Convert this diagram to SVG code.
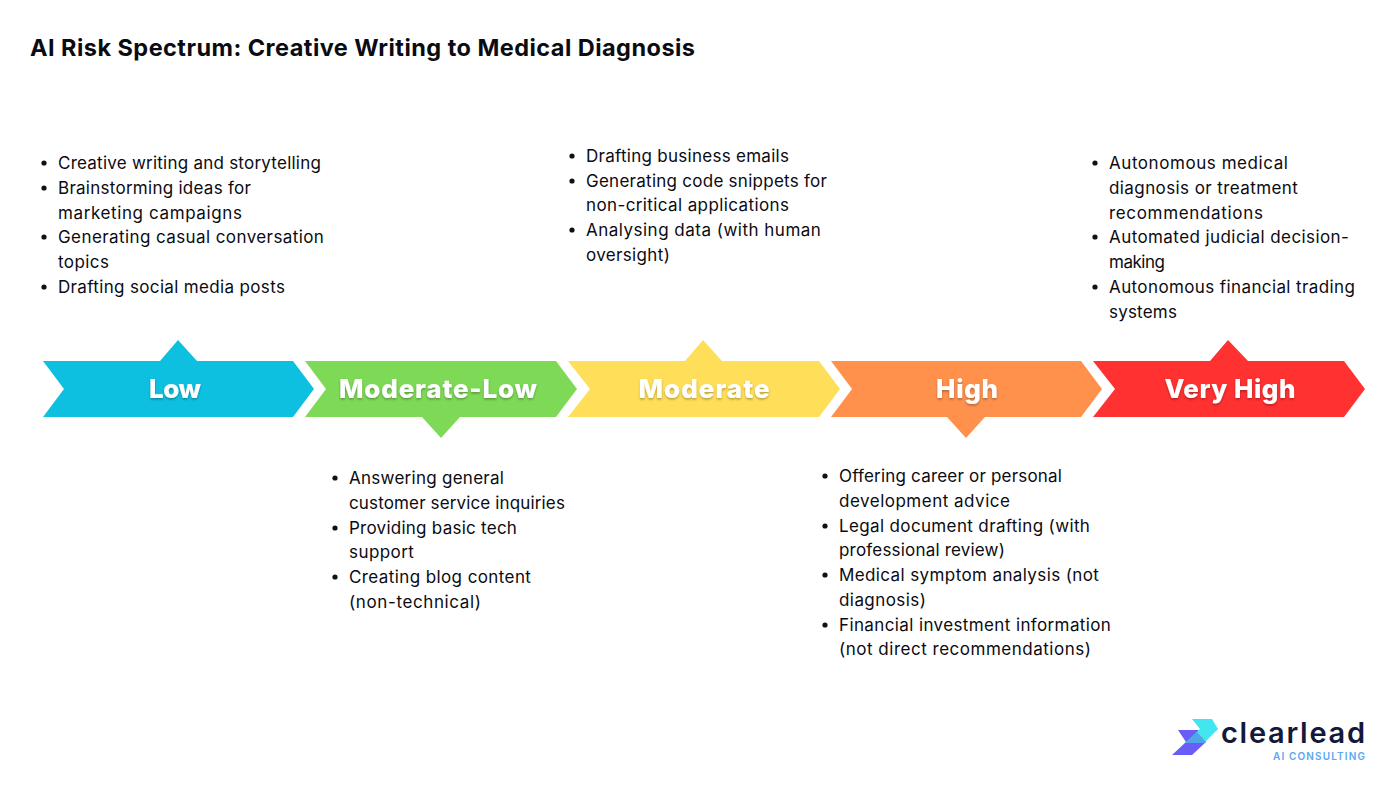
<svg xmlns="http://www.w3.org/2000/svg" width="1400" height="788" viewBox="0 0 1400 788">
<style>
text{font-family:"Inter","Liberation Sans",sans-serif;fill:#0b0b12}
.t{font-size:17px;letter-spacing:.1px}
.h{font-size:26px;font-weight:800;fill:#fff;text-anchor:middle;filter:url(#s)}
circle{fill:#111}
</style>
<defs><filter id="s" x="-10%" y="-20%" width="120%" height="150%"><feDropShadow dx="0" dy="1.5" stdDeviation="1.2" flood-color="#000" flood-opacity=".3"/></filter></defs>
<rect width="1400" height="788" fill="#fff"/>
<text id="title" x="30" y="56" style="font-size:23.5px;font-weight:700" textLength="665" lengthAdjust="spacing">AI Risk Spectrum: Creative Writing to Medical Diagnosis</text>

<g id="node-low"><path fill="#0dc0e0" d="M43 361H160L178 340L197 361H293L314 389L293 417H43L64 389Z"/><text class="h" x="175" y="398" textLength="52">Low</text></g>
<g id="node-moderate-low"><path fill="#7ed957" d="M305 361H556L577 389L556 417H460L441 438L422 417H305L326 389Z"/><text class="h" x="438" y="398" textLength="198">Moderate-Low</text></g>
<g id="node-moderate"><path fill="#ffde59" d="M568 361H685L703 340L722 361H819L840 389L819 417H568L590 389Z"/><text class="h" x="704" y="398" textLength="131">Moderate</text></g>
<g id="node-high"><path fill="#ff914d" d="M831 361H1081L1102 389L1081 417H985L966 438L947 417H831L852 389Z"/><text class="h" x="967" y="398" textLength="62">High</text></g>
<g id="node-very-high"><path fill="#ff3131" d="M1093 361H1210L1228 340L1248 361H1344L1365 389L1344 417H1093L1115 389Z"/><text class="h" x="1230" y="398" textLength="131">Very High</text></g>

<g id="list-low">
<circle cx="44" cy="163" r="2.6"/><circle cx="44" cy="188" r="2.6"/><circle cx="44" cy="237" r="2.6"/><circle cx="44" cy="287" r="2.6"/>
<text class="t" x="58" y="169" textLength="263">Creative writing and storytelling</text>
<text class="t" x="58" y="194" textLength="193">Brainstorming ideas for</text>
<text class="t" x="58" y="219" textLength="184">marketing campaigns</text>
<text class="t" x="58" y="243" textLength="266">Generating casual conversation</text>
<text class="t" x="58" y="268" textLength="51">topics</text>
<text class="t" x="58" y="293" textLength="227">Drafting social media posts</text>
</g>
<g id="list-moderate-low">
<circle cx="335" cy="478" r="2.6"/><circle cx="335" cy="528" r="2.6"/><circle cx="335" cy="577" r="2.6"/>
<text class="t" x="349" y="484" textLength="155">Answering general</text>
<text class="t" x="349" y="509" textLength="216">customer service inquiries</text>
<text class="t" x="349" y="534" textLength="168">Providing basic tech</text>
<text class="t" x="349" y="558" textLength="65">support</text>
<text class="t" x="349" y="583" textLength="182">Creating blog content</text>
<text class="t" x="349" y="608" textLength="132">(non-technical)</text>
</g>
<g id="list-moderate">
<circle cx="572" cy="156" r="2.6"/><circle cx="572" cy="181" r="2.6"/><circle cx="572" cy="230" r="2.6"/>
<text class="t" x="586" y="162" textLength="203">Drafting business emails</text>
<text class="t" x="586" y="187" textLength="241">Generating code snippets for</text>
<text class="t" x="586" y="211" textLength="203">non-critical applications</text>
<text class="t" x="586" y="236" textLength="235">Analysing data (with human</text>
<text class="t" x="586" y="261" textLength="84">oversight)</text>
</g>
<g id="list-high">
<circle cx="825" cy="476" r="2.6"/><circle cx="825" cy="526" r="2.6"/><circle cx="825" cy="575" r="2.6"/><circle cx="825" cy="625" r="2.6"/>
<text class="t" x="839" y="482" textLength="223">Offering career or personal</text>
<text class="t" x="839" y="507" textLength="171">development advice</text>
<text class="t" x="839" y="532" textLength="251">Legal document drafting (with</text>
<text class="t" x="839" y="556" textLength="166">professional review)</text>
<text class="t" x="839" y="581" textLength="260">Medical symptom analysis (not</text>
<text class="t" x="839" y="606" textLength="87">diagnosis)</text>
<text class="t" x="839" y="631" textLength="272">Financial investment information</text>
<text class="t" x="839" y="655" textLength="252">(not direct recommendations)</text>
</g>
<g id="list-very-high">
<circle cx="1095" cy="163" r="2.6"/><circle cx="1095" cy="237" r="2.6"/><circle cx="1095" cy="287" r="2.6"/>
<text class="t" x="1109" y="169" textLength="179">Autonomous medical</text>
<text class="t" x="1109" y="194" textLength="189">diagnosis or treatment</text>
<text class="t" x="1109" y="219" textLength="154">recommendations</text>
<text class="t" x="1109" y="243" textLength="240">Automated judicial decision-</text>
<text class="t" x="1109" y="268" textLength="56">making</text>
<text class="t" x="1109" y="293" textLength="246">Autonomous financial trading</text>
<text class="t" x="1109" y="318" textLength="68">systems</text>
</g>
<g id="logo">
<path fill="#6a5cf6" d="M1178 730H1198L1206 742L1192 755H1172L1186 742Z"/>
<path fill="#41e6ee" d="M1192 719H1212L1218 729L1204 743H1185L1200 729Z"/>
<path fill="#4fa5e8" d="M1185 743L1197 732L1206 742L1205 743Z"/>
<text x="1221" y="743" style="font-size:29px;font-weight:600;fill:#14183a" textLength="144">clearlead</text>
<text x="1273" y="760" style="font-size:10px;font-weight:600;fill:#5aa7f2" textLength="92">AI CONSULTING</text>
</g>
</svg>
